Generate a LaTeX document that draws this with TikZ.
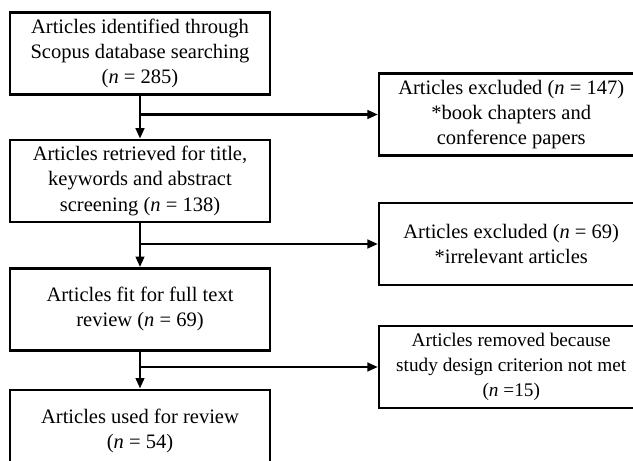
\documentclass[tikz,border=0pt]{standalone}
\usepackage{fontspec}
\setmainfont{Liberation Serif}
\usepackage{tikz}
\usetikzlibrary{arrows.meta, positioning, calc}

\begin{document}
\begin{tikzpicture}[
    x=0.025cm, y=-0.025cm,
    node distance=1.075cm and 2.7cm,
    stage/.style={draw, line width=1.7pt, minimum width=6.5cm, minimum height=2.05cm, inner sep=2pt, align=center, font=\fontsize{14.6}{17.9}\selectfont},
    excluded/.style={stage, minimum width=6.6cm, anchor=west},
    arrow/.style={-{Triangle[length=7.5pt, width=6pt]}, line width=2pt}
]
    \useasboundingbox (0,0) rectangle (633,461);
    \clip (0,0) rectangle (633,461);

    % Main stages
    \node[stage] (identified) at (140,53.5) {Articles identified through\\Scopus database searching\\(\textit{n} = 285)};
    \node[stage, below=of identified] (retrieved) {Articles retrieved for title,\\keywords and abstract\\screening (\textit{n} = 138)};
    \node[stage, below=1.1cm of retrieved] (fit) {Articles fit for full text\\review (\textit{n} = 69)};
    \node[stage, below=0.925cm of fit] (used) {Articles used for review\\(\textit{n} = 54)};

    % Excluded articles
    \node[excluded] (excl1) at (378,114.5) {Articles excluded (\textit{n} = 147)\\{}*book chapters and\\conference papers};
    \node[excluded] (excl2) at (378,244) {Articles excluded (\textit{n} = 69)\\{}*irrelevant articles};
    \node[excluded, font=\fontsize{13.7}{17.9}\selectfont] (excl3) at (378,367) {Articles removed because\\study design criterion not met\\(\textit{n} =15)};

    % Branch points
    \coordinate (split1) at (identified.south |- excl1.west);
    \coordinate (split2) at (retrieved.south |- excl2.west);
    \coordinate (split3) at (fit.south |- excl3.west);

    % Flow
    \draw[arrow] (identified) -- (retrieved);
    \draw[arrow] (retrieved) -- (fit);
    \draw[arrow] (fit) -- (used);
    \draw[arrow] (split1) -- (excl1);
    \draw[arrow] (split2) -- (excl2);
    \draw[arrow] (split3) -- (excl3);

\end{tikzpicture}
\end{document}
